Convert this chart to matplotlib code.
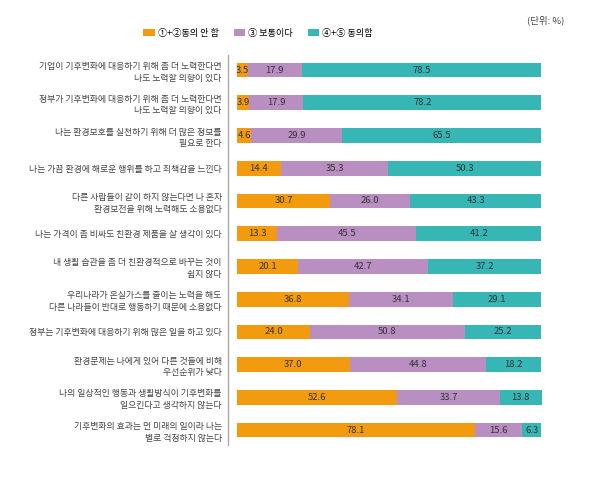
import numpy as np
import matplotlib.pyplot as plt
from matplotlib.lines import Line2D

plt.rcParams['font.family'] = ['Noto Sans CJK KR', 'DejaVu Sans']

# 문항 (위에서 아래 순서)
items = [
    "기업이 기후변화에 대응하기 위해 좀 더 노력한다면\n나도 노력할 의향이 있다",
    "정부가 기후변화에 대응하기 위해 좀 더 노력한다면\n나도 노력할 의향이 있다",
    "나는 환경보호를 실천하기 위해 더 많은 정보를\n필요로 한다",
    "나는 가끔 환경에 해로운 행위를 하고 죄책감을 느낀다",
    "다른 사람들이 같이 하지 않는다면 나 혼자\n환경보전을 위해 노력해도 소용없다",
    "나는 가격이 좀 비싸도 친환경 제품을 살 생각이 있다",
    "내 생활 습관을 좀 더 친환경적으로 바꾸는 것이\n쉽지 않다",
    "우리나라가 온실가스를 줄이는 노력을 해도\n다른 나라들이 반대로 행동하기 때문에 소용없다",
    "정부는 기후변화에 대응하기 위해 많은 일을 하고 있다",
    "환경문제는 나에게 있어 다른 것들에 비해\n우선순위가 낮다",
    "나의 일상적인 행동과 생활방식이 기후변화를\n일으킨다고 생각하지 않는다",
    "기후변화의 효과는 먼 미래의 일이라 나는\n별로 걱정하지 않는다",
]
disagree = [3.5, 3.9, 4.6, 14.4, 30.7, 13.3, 20.1, 36.8, 24.0, 37.0, 52.6, 78.1]
neutral = [17.9, 17.9, 29.9, 35.3, 26.0, 45.5, 42.7, 34.1, 50.8, 44.8, 33.7, 15.6]
agree = [78.5, 78.2, 65.5, 50.3, 43.3, 41.2, 37.2, 29.1, 25.2, 18.2, 13.8, 6.3]
series_names = ["①+②동의 안 함", "③ 보통이다", "④+⑤ 동의함"]
colors = ["#F29B0E", "#B98EC1", "#36B7B5"]

fig = plt.figure(figsize=(6, 4.93), dpi=100)
ax = fig.add_axes([0.395, 0.0945, 0.508, 0.7965])

y = np.arange(len(items))
left = np.zeros(len(items))
for vals, col, name in zip([disagree, neutral, agree], colors, series_names):
    vals = np.array(vals)
    ax.barh(y, vals, left=left, height=0.45, color=col, label=name)
    for yi, l, v in zip(y, left, vals):
        ax.text(l + v / 2, yi, f"{v:.1f}", ha='center', va='center',
                fontsize=6.8, color='#333333')
    left = left + vals

ax.set_ylim(len(items) - 0.5, -0.5)
ax.set_xlim(0, left.max())
ax.set_yticks(y)
ax.set_yticklabels(items, fontsize=6.4, color='#444444',
                   multialignment='right', linespacing=1.35)
ax.tick_params(axis='y', length=0, pad=11)
ax.set_xticks([])
for s in ax.spines.values():
    s.set_visible(False)

# 세로 구분선
fig.add_artist(Line2D([0.38, 0.38], [1 - 55 / 493, 1 - 445 / 493],
                      color='#aaaaaa', lw=1))

fig.legend(loc='center', bbox_to_anchor=(0.43, 1 - 33 / 493), ncol=3,
           frameon=False, fontsize=6.6, handlelength=1.3, handleheight=0.8,
           columnspacing=1.6, handletextpad=0.3)
fig.text(0.94, 1 - 20 / 493, "(단위: %)", ha='right', va='center',
         fontsize=6.8, color='#444444')

fig.savefig("out.png", dpi=100)
